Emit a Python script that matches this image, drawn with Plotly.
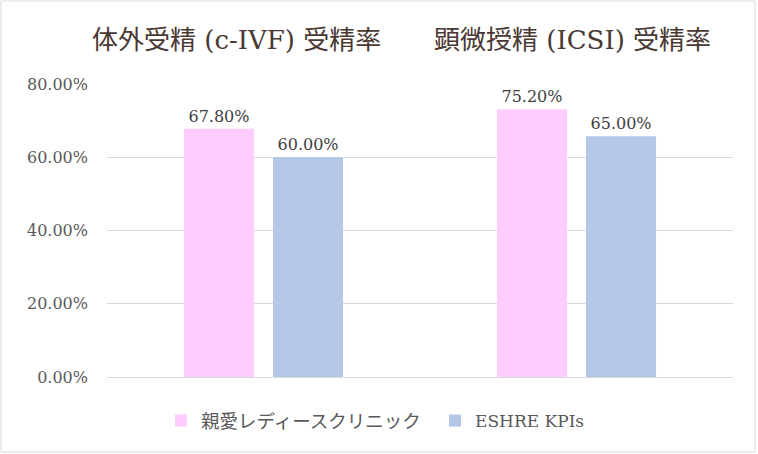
import plotly.graph_objects as go

categories = ["c-IVF", "ICSI"]
group_titles = ["体外受精 (c-IVF) 受精率", "顕微授精 (ICSI) 受精率"]
series_names = ["親愛レディースクリニック", "ESHRE KPIs"]
clinic_values = [67.8, 73.1]
eshre_values = [60.0, 65.7]
clinic_labels = ["67.80%", "75.20%"]
eshre_labels = ["60.00%", "65.00%"]
y_ticks = [0, 20, 40, 60, 80]
y_tick_labels = ["0.00%", "20.00%", "40.00%", "60.00%", "80.00%"]

SERIF = "DejaVu Serif, Noto Sans CJK JP, serif"

fig = go.Figure()
fig.add_trace(go.Bar(
    x=categories, y=clinic_values, name=series_names[0],
    marker=dict(color="#FFCCFF", line=dict(width=0)),
    text=clinic_labels, textposition="outside",
    textfont=dict(family=SERIF, size=16, color="#404040"),
    cliponaxis=False, legend="legend",
))
fig.add_trace(go.Bar(
    x=categories, y=eshre_values, name=series_names[1],
    marker=dict(color="#B4C7E7", line=dict(width=0)),
    text=eshre_labels, textposition="outside",
    textfont=dict(family=SERIF, size=16, color="#404040"),
    cliponaxis=False, legend="legend2",
))

W, H = 758, 454
L, R, T, B = 107, 25, 84, 77
pw, ph = W - L - R, H - T - B

def px(x):
    return (x - L) / pw

def py(y):
    return (H - B - y) / ph

title_x = [236, 572.5]
for tx, t in zip(title_x, group_titles):
    fig.add_annotation(
        text=t, xref="paper", yref="paper", x=px(tx), y=py(40),
        xanchor="center", yanchor="middle", showarrow=False,
        font=dict(family=SERIF, size=26, color="#4A3833"),
    )

fig.add_shape(
    type="rect", xref="paper", yref="paper",
    x0=px(1), x1=px(755), y0=py(452), y1=py(1),
    line=dict(color="#D9D9D9", width=1), fillcolor="rgba(0,0,0,0)",
    layer="below",
)

legend_common = dict(
    orientation="h", xanchor="left", y=py(421), yanchor="middle",
    itemwidth=30, bgcolor="rgba(0,0,0,0)",
)

fig.update_layout(
    width=W, height=H,
    margin=dict(l=L, r=R, t=T, b=B, autoexpand=False),
    paper_bgcolor="white", plot_bgcolor="white",
    barmode="group", bargap=0.431, bargroupgap=0.2135,
    showlegend=True,
    legend=dict(x=px(161), font=dict(family=SERIF, size=18.5, color="#595959"),
                **legend_common),
    legend2=dict(x=px(435), font=dict(family=SERIF, size=17, color="#595959"),
                 **legend_common),
    font=dict(family=SERIF),
)
fig.update_xaxes(showticklabels=False, showgrid=False, zeroline=False,
                 showline=False, ticks="")
fig.update_yaxes(
    range=[0, 80], tickvals=y_ticks, ticktext=y_tick_labels,
    showgrid=True, gridcolor="#D9D9D9", gridwidth=1,
    zeroline=True, zerolinecolor="#D9D9D9", zerolinewidth=1,
    showline=False, ticks="", ticklen=0, ticklabelstandoff=18,
    tickfont=dict(family=SERIF, size=16, color="#595959"),
)

fig.write_html("out.html", config={"displayModeBar": False},
               post_script="document.body.style.margin='0';")
